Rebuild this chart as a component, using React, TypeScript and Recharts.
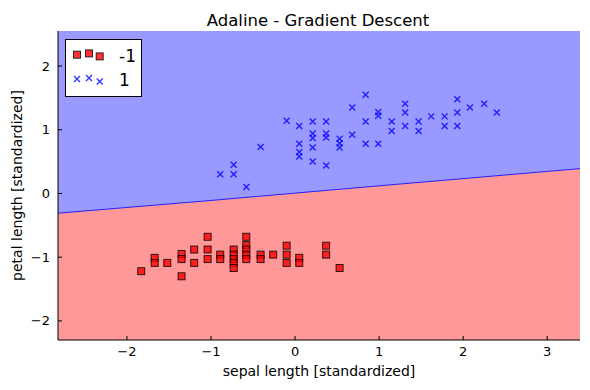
import {
  ComposedChart, XAxis, YAxis, CartesianGrid, Area, Scatter, Legend,
} from "recharts";

const FONT = '"DejaVu Sans", "Noto Sans", sans-serif';

const xTicks = [-2, -1, 0, 1, 2, 3];
const yTicks = [-2, -1, 0, 1, 2];

// class -1 (setosa): [sepal length, petal length], standardized
const setosaPoints = [
  [-1.83, -1.22],
  [-1.67, -1.01], [-1.67, -1.09],
  [-1.52, -1.09],
  [-1.35, -0.95], [-1.35, -1.03], [-1.35, -1.3],
  [-1.2, -0.88], [-1.2, -1.09],
  [-1.04, -0.68], [-1.04, -0.88], [-1.04, -1.03],
  [-0.89, -0.96], [-0.89, -1.03],
  [-0.73, -0.88], [-0.73, -0.96], [-0.73, -1.03], [-0.73, -1.09], [-0.73, -1.17],
  [-0.58, -0.68], [-0.58, -0.81], [-0.58, -0.88], [-0.58, -0.96], [-0.58, -1.03],
  [-0.41, -0.96], [-0.41, -1.03],
  [-0.26, -0.96],
  [-0.1, -0.82], [-0.1, -0.96], [-0.1, -1.09],
  [0.05, -1.01], [0.05, -1.09],
  [0.37, -0.82], [0.37, -0.96],
  [0.53, -1.17],
];

// class 1 (versicolor)
const versicolorPoints = [
  [-0.89, 0.3], [-0.73, 0.45], [-0.73, 0.3], [-0.58, 0.1], [-0.41, 0.73],
  [-0.1, 1.14],
  [0.05, 1.06], [0.05, 0.78], [0.05, 0.65], [0.05, 0.58],
  [0.21, 1.13], [0.21, 0.94], [0.21, 0.87], [0.21, 0.72], [0.21, 0.5],
  [0.37, 1.13], [0.37, 0.94], [0.37, 0.88], [0.37, 0.44],
  [0.53, 0.86], [0.53, 0.79], [0.53, 0.72],
  [0.68, 1.35], [0.68, 0.92],
  [0.84, 1.55], [0.84, 1.13], [0.84, 0.78],
  [0.99, 1.28], [0.99, 1.22], [0.99, 0.78],
  [1.15, 1.13], [1.15, 0.98],
  [1.31, 1.41], [1.31, 1.27], [1.31, 1.06],
  [1.47, 1.13], [1.47, 0.98],
  [1.62, 1.21],
  [1.78, 1.21], [1.78, 1.06],
  [1.93, 1.48], [1.93, 1.27], [1.93, 1.06],
  [2.08, 1.35], [2.25, 1.41], [2.4, 1.27],
];

// decision boundary (edge of the red region)
const boundaryPoints = [
  [-2.82, -0.31], [-1, -0.11], [1, 0.12], [3.39, 0.39],
];

const X_DOMAIN = [-2.82, 3.39];
const Y_DOMAIN = [-2.3, 2.55];

const toXY = (pts: number[][]) => pts.map(([x, y]) => ({ x, y }));
const fmt = (v: number) => (v < 0 ? `\u2212${Math.abs(v)}` : `${v}`);

const BottomTick = ({ x, y, payload }: any) => (
  <g>
    <line x1={x} x2={x} y1={y} y2={y - 4} stroke="#000" />
    <text x={x} y={y + 16} textAnchor="middle" fontSize={13} fontFamily={FONT} fill="#000">
      {fmt(payload.value)}
    </text>
  </g>
);
const TopTick = ({ x, y }: any) => <line x1={x} x2={x} y1={y} y2={y + 4} stroke="#000" />;
const LeftTick = ({ x, y, payload }: any) => (
  <g>
    <line x1={x} x2={x + 4} y1={y} y2={y} stroke="#000" />
    <text x={x - 8} y={y + 4.5} textAnchor="end" fontSize={13} fontFamily={FONT} fill="#000">
      {fmt(payload.value)}
    </text>
  </g>
);
const RightTick = ({ x, y }: any) => <line x1={x} x2={x - 4} y1={y} y2={y} stroke="#000" />;

const Square = ({ cx, cy }: any) => (
  <rect x={cx - 3.5} y={cy - 3.5} width={7} height={7} fill="#ff0000" fillOpacity={0.8}
    stroke="#000" strokeOpacity={0.8} strokeWidth={1} />
);
const Cross = ({ cx, cy }: any) => (
  <path d={`M${cx - 3},${cy - 3}L${cx + 3},${cy + 3}M${cx - 3},${cy + 3}L${cx + 3},${cy - 3}`}
    stroke="#0000ff" strokeOpacity={0.8} strokeWidth={1.4} fill="none" />
);

const LegendBox = () => (
  <div style={{ width: 77, height: 58, border: "1px solid #000", background: "#fff", boxSizing: "border-box" }}>
    <svg width={75} height={56} style={{ display: "block" }}>
      <Square cx={11} cy={14.7} />
      <Square cx={23} cy={13.4} />
      <Square cx={33.7} cy={16.4} />
      <text x={53} y={15.5} dominantBaseline="central" fontSize={17} fontFamily={FONT}>-1</text>
      <Cross cx={11} cy={39} />
      <Cross cx={23} cy={38} />
      <Cross cx={33.7} cy={41.4} />
      <text x={53} y={40} dominantBaseline="central" fontSize={17} fontFamily={FONT}>1</text>
    </svg>
  </div>
);

export default function App() {
  return (
    <div style={{ position: "absolute", left: 0, top: 0, width: 590, height: 390, background: "#fff" }}>
      <ComposedChart width={590} height={390} margin={{ top: 31, right: 10, bottom: 0, left: 0 }}>
        <CartesianGrid fill="#9999ff" stroke="none" horizontal={false} vertical={false} />
        <XAxis type="number" dataKey="x" domain={X_DOMAIN} ticks={xTicks} interval={0}
          allowDataOverflow height={50} tickSize={0} tickMargin={0} tickLine={false}
          axisLine={{ stroke: "#000" }} tick={<BottomTick />} />
        <XAxis xAxisId="t" orientation="top" type="number" dataKey="x" domain={X_DOMAIN} ticks={xTicks}
          interval={0} allowDataOverflow height={0} tickSize={0} tickMargin={0} tickLine={false}
          axisLine={{ stroke: "#000" }} tick={<TopTick />} />
        <YAxis type="number" dataKey="y" domain={Y_DOMAIN} ticks={yTicks} interval={0}
          allowDataOverflow width={58} tickSize={0} tickMargin={0} tickLine={false}
          axisLine={{ stroke: "#000" }} tick={<LeftTick />} />
        <YAxis yAxisId="r" orientation="right" type="number" dataKey="y" domain={Y_DOMAIN} ticks={yTicks}
          interval={0} allowDataOverflow width={0} tickSize={0} tickMargin={0} tickLine={false}
          axisLine={{ stroke: "#000" }} tick={<RightTick />} />
        <Area data={toXY(boundaryPoints)} dataKey="y" type="linear" baseValue="dataMin"
          fill="#ff9999" fillOpacity={1} stroke="#2222ff" strokeWidth={1} isAnimationActive={false} />
        <Scatter data={toXY(setosaPoints)} shape={<Square />} isAnimationActive={false} />
        <Scatter data={toXY(versicolorPoints)} shape={<Cross />} isAnimationActive={false} />
        <Legend layout="vertical" align="center" verticalAlign="middle" content={<LegendBox />}
          wrapperStyle={{ left: 65, top: 39, width: 77, height: 58 }} />
        <text x={318} y={26} textAnchor="middle" fontSize={16.5} fontFamily={FONT} fill="#000">
          Adaline - Gradient Descent
        </text>
        <text x={319} y={376} textAnchor="middle" fontSize={14} fontFamily={FONT} fill="#000">
          sepal length [standardized]
        </text>
        <text x={22} y={185.5} textAnchor="middle" fontSize={14} fontFamily={FONT} fill="#000"
          transform="rotate(-90 22 185.5)">
          petal length [standardized]
        </text>
      </ComposedChart>
    </div>
  );
}
